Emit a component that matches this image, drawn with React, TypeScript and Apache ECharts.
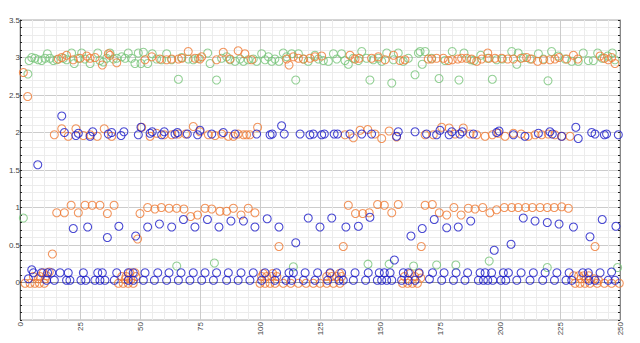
import React, { useEffect, useRef } from "react";
import * as echarts from "echarts";

const xTicks = [0, 25, 50, 75, 100, 125, 150, 175, 200, 225, 250];
const yTicks = [0, 0.5, 1, 1.5, 2, 2.5, 3, 3.5];

const greenTop: number[][] = [
  [3.3,2.78],[3.8,2.96],[4.9,3.0],[6.2,2.99],[7.6,2.97],[9,2.96],[10.4,2.99],[11.4,3.05],[12.5,2.99],[13.9,2.96],[15.3,2.97],[18.1,2.99],[19.4,2.97],[21.5,3.06],[22.6,2.92],[24.3,2.99],[25.7,3.06],[27.1,2.98],[29.2,2.92],[32.4,3.06],[33.3,2.96],[34.7,2.94],[36.1,2.99],[37.5,3.06],[38.9,2.98],[40.3,2.99],[42.4,3.01],[43.8,2.99],[45.1,3.06],[46.5,2.99],[47.9,2.92],[49.3,3.06],[50.4,2.92],[51.4,3.07],[53.2,2.92],[55.1,3.05],[56.9,2.98],[59,2.97],[61.1,3.05],[63.2,2.97],[66,2.71],[67.4,3.0],[70.1,2.98],[72.2,2.97],[74.3,2.99],[78.2,3.06],[79.2,2.92],[81.9,2.7],
  [84.0,2.99],[86.1,3.01],[87.5,2.97],[89.6,2.95],[91.7,2.98],[93.1,2.95],[95.1,2.97],[97.2,2.98],[98.6,2.95],[100.7,3.05],[102.1,2.97],[103.5,3.01],[104.9,2.95],[106.2,2.98],[107.9,2.95],[109.7,3.06],[111.1,3.01],[113.2,3.05],[114.9,2.7],[116.0,3.05],[118.1,2.98],[120.1,2.95],[122.9,3.03],[124.3,2.98],[126.4,2.96],[128.5,2.95],[130.6,3.05],[132.0,2.98],[134.0,3.05],[135.4,2.96],[136.8,2.91],[138.9,2.99],[141.0,2.96],[142.4,3.08],[144.4,2.99],[145.8,2.7],[147.2,2.97],[149.3,2.99],[150.7,2.95],[152.8,3.06],[154.9,2.66],[155.6,2.97],[157.6,3.06],[159.7,2.95],[161.8,2.99],[164.6,2.77],[166.0,3.06],
  [166.7,3.08],[167.6,2.91],[168.8,3.08],[171.5,2.99],[174.6,2.72],[177.1,2.96],[180.1,3.08],[182.9,2.7],[185.0,3.06],[187.8,2.97],[189.2,2.96],[192.0,3.03],[194.8,2.99],[196.8,2.71],[198.6,2.97],[201.0,2.98],[204.9,3.08],[207.0,2.91],[207.6,3.06],[209.7,3.0],[212.5,2.98],[216.0,3.05],[218.1,2.98],[220.0,2.69],[221.5,3.08],[224.3,3.02],[227.1,2.98],[229.9,2.95],[232.6,2.95],[234.7,3.06],[236.8,2.96],[238.9,2.96],[240.7,3.06],[242.6,2.99],[244.9,3.02],[246.8,3.06],[247.9,2.97]
];
const greenLow: number[][] = [
  [1.4,0.86],[65.3,0.22],[81.0,0.26],[113.9,0.21],[145.0,0.245],[153.8,0.245],[164.0,0.22],[173.6,0.233],[181.6,0.233],[195.5,0.286],[219.7,0.2],[249.0,0.2]
];

const orangeTop: number[][] = [
  [1.4,2.8],[3.2,2.48],[16.0,2.98],[17.4,3.0],[19.4,3.03],[22.2,2.97],[25.0,2.99],[27.8,3.02],[29.2,2.99],[31.3,3.0],[34.3,2.9],[36.8,3.05],[37.5,3.03],[40.3,2.93],[52.1,2.97],[54.9,3.01],[58.3,2.98],[61.1,2.97],[63.2,2.98],[66.0,2.98],[67.4,2.99],[70.1,3.08],[72.9,2.99],[75,2.98],[75.7,3.01],[81.9,2.97],[84.7,3.07],[87.5,2.98],[90.9,3.09],[93.7,3.05],[96.5,2.97],[111.1,2.98],[112.1,2.9],[113.9,3.01],[116.0,2.99],[118.1,2.98],[120.8,2.99],[122.9,3.01],[125.7,3.02],[137.5,3.03],[139.6,2.98],[141.3,2.99],[146.5,2.99],[149.3,3.01],[152.1,2.97],[155.6,3.03],[158.3,2.96],[160.4,2.97],[170.1,2.98],[171.5,2.98],[173.6,2.99],[176.4,2.99],[178.5,2.96],[180.1,2.97],[182.4,2.98],[184.0,2.99],[186.1,2.99],[188.2,2.98],[190.3,2.95],[192.4,2.98],[194.9,3.06],[195.4,2.99],[197.9,2.99],[200.7,2.99],[203.2,2.98],[205.6,2.98],[208.8,2.99],[211.1,3.0],[213.2,2.98],[215.7,2.95],[218.1,2.97],[220.8,2.97],[222.9,2.98],[224.6,3.0],[227.8,2.98],[230.6,3.03],[232.4,2.98],[241.7,3.02],[243.5,2.99],[245.1,2.97],[246.5,3.0],[247.9,2.92]
];
const orangeTwo: number[][] = [
  [14.3,1.97],[17.4,2.05],[20.1,1.95],[23.3,2.05],[26.4,1.96],[29.2,1.97],[32.2,1.95],[35.1,2.05],[38.2,1.95],[50.7,2.07],[54.2,1.95],[56.9,1.99],[60.1,1.97],[63.2,1.97],[66,1.98],[69,1.98],[72.2,2.08],[75,2.01],[78.5,1.97],[81.3,1.96],[84.0,1.98],[86.8,1.95],[88.9,1.95],[90.9,1.98],[93.1,1.97],[94.4,1.97],[95.8,1.97],[99.0,2.07],[135.4,1.97],[138.9,1.93],[141.7,2.03],[144.9,2.04],[147.9,1.98],[150.7,1.92],[153.8,2.02],[156.9,1.94],[168.8,1.97],[172.2,1.97],[175.7,2.07],[178.8,2.06],[181.3,1.98],[184.7,2.06],[187.5,1.98],[190.3,1.97],[193.8,1.95],[196.8,1.97],[199.3,1.99],[202.1,1.95],[205.6,1.99],[208.8,1.98],[211.8,1.95],[214.6,1.97],[217.4,1.97],[220.1,1.98],[222.9,1.97],[225.7,1.95],[229.2,1.95]
];
const orangeOne: number[][] = [
  [13.5,0.38],[15.3,0.93],[18.5,0.93],[21.3,1.03],[24.3,0.93],[27.1,1.03],[30.1,1.03],[33.3,1.03],[36.4,0.92],[39.2,1.03],[49.0,0.58],[50,0.92],[53.2,1.0],[56.2,0.98],[58.9,1.0],[62.1,0.99],[65.3,0.99],[68.3,0.98],[71.1,0.88],[74,0.9],[77.1,0.99],[79.9,0.98],[83.3,0.95],[86.1,0.95],[88.9,0.99],[92.1,0.9],[95.1,0.99],[97.9,0.93],[107.9,0.48],[134.7,0.48],[136.8,1.03],[139.8,0.92],[142.8,0.92],[145.5,0.93],[149.0,1.04],[151.8,1.03],[154.9,0.93],[157.6,1.04],[167.2,0.48],[168.8,1.03],[171.8,1.04],[174.7,0.93],[177.8,0.9],[180.8,1.0],[183.8,0.9],[186.8,0.99],[189.6,0.98],[192.8,1.0],[195.8,0.93],[198.6,0.97],[201.8,1.0],[204.9,1.0],[207.6,1.0],[210.7,1.0],[213.5,1.0],[216.7,1.0],[219.7,1.0],[222.6,1.0],[225.7,1.01],[228.5,0.99],[239.6,0.48]
];
const orangeZero: number[][] = [
  [2.1,-0.01],[4.2,-0.01],[6.2,-0.01],[8.1,-0.01],[10.1,-0.01],[5.6,0.08],[8.3,0.08],[11.1,0.09],[9.7,0.13],[12.2,0.14],[7.6,0.05],[10.5,0.05],
  [41.0,-0.01],[43.0,-0.01],[45.1,-0.01],[47.2,-0.01],[42.4,0.08],[44.2,0.08],[48.3,0.08],[45.8,0.13],[47.9,0.13],[43.8,0.04],[46.2,0.04],
  [100,-0.01],[102.1,-0.01],[104.2,-0.01],[106.3,-0.01],[109.7,-0.01],[112.8,-0.01],[116.0,-0.01],[119.2,-0.01],[122.2,-0.01],[125,-0.01],[127.8,-0.01],[130.6,-0.01],[133.3,-0.01],
  [100.7,0.08],[102.8,0.08],[104.9,0.08],[107,0.08],[101.4,0.12],[105.3,0.12],
  [127.8,0.08],[129.9,0.08],[131.9,0.08],[134,0.08],[129.2,0.12],[133.1,0.12],
  [159.4,-0.01],[161.5,-0.01],[163.5,-0.01],[165.6,-0.01],[160.2,0.08],[164.5,0.08],[167,0.06],[162.5,0.12],[166.2,0.12],
  [231.3,-0.01],[233.3,-0.01],[235.4,-0.01],[237.5,-0.01],[240.5,-0.01],[243.5,-0.01],[246.5,-0.01],[249.7,-0.01],[230.7,0.09],[232.8,0.09],[234.9,0.09],[237.0,0.09],[233.8,0.05],[236.0,0.05],[239.2,0.05],[241.0,0.03]
];

const blueTwo: number[][] = [
  [17.4,2.22],[18.5,2.0],[23.3,1.96],[24.3,1.99],[29.2,1.95],[30.3,2.01],[36.8,1.98],[38.2,2.0],[42.1,1.96],[43.3,2.01],[49.3,1.97],[50.4,2.07],[54.2,1.99],[55.1,2.01],[59,1.97],[60.1,2.01],[64.6,1.98],[65.6,2.0],[69.7,1.98],[74,1.97],[75,2.03],[79.9,1.98],[84.7,2.0],[89.6,1.98],[98.6,1.98],[104.2,1.97],[105.1,1.98],[109.0,2.09],[110.1,1.98],[116.7,1.98],[120.8,1.97],[122.2,1.98],[125.7,1.97],[126.8,1.98],[130.9,1.98],[132.3,1.98],[137.5,1.98],[142.4,1.98],[146.5,1.98],[156.9,1.95],[157.6,2.01],[164.6,2.01],[169.4,1.98],[173.6,1.97],[175.0,2.03],[178.8,1.97],[179.9,2.01],[183.3,1.98],[184.3,2.01],[188.9,1.98],[198.6,2.0],[199.6,2.02],[205.6,1.97],[210.4,1.95],[216.0,1.99],[220.8,2.01],[221.8,1.98],[225.7,1.95],[231.6,2.07],[232.6,1.92],[238.2,2.0],[239.6,1.98],[243.5,1.97],[244.4,1.98],[249.3,1.97]
];
const blueMid: number[][] = [
  [7.4,1.57],[22.2,0.72],[28.2,0.74],[36.4,0.6],[41.2,0.75],[48.2,0.62],[53.2,0.74],[58.1,0.78],[63.2,0.74],[68.1,0.84],[72.9,0.74],[78.1,0.84],[82.9,0.74],[87.9,0.82],[93.1,0.82],[97.9,0.74],[103.0,0.85],[107.9,0.74],[114.9,0.53],[120.1,0.86],[125,0.74],[129.9,0.86],[135.8,0.74],[141.0,0.75],[145.8,0.87],[156.0,0.3],[162.9,0.62],[167.6,0.72],[172.6,0.84],[177.8,0.73],[182.6,0.74],[187.8,0.82],[197.6,0.43],[204.6,0.51],[209.7,0.86],[214.6,0.82],[219.7,0.8],[224.6,0.78],[230.6,0.74],[237.5,0.61],[242.6,0.84],[248.3,0.75]
];
const blueZeroUpper: number[][] = [
  [4.9,0.17],[5.6,0.13],[9.0,0.13],[11.5,0.13],[13.2,0.13],[16.7,0.13],[20.1,0.13],[26.4,0.13],[32.4,0.13],[34.3,0.13],[40.3,0.13],[45.1,0.13],[47.2,0.13],[52.1,0.13],[57.4,0.13],[62.1,0.13],[67.1,0.13],[72.2,0.13],[77.1,0.13],[81.9,0.13],
  [86.8,0.13],[92.1,0.13],[97.2,0.13],[102.1,0.13],[106.9,0.13],[112.1,0.13],[113.9,0.13],[118.8,0.13],[124.0,0.13],[129.2,0.13],[134.0,0.13],[139.6,0.13],[145.1,0.13],[149.7,0.13],[151.8,0.13],[154.2,0.13],[159.7,0.13],[161.8,0.13],[166.3,0.13],
  [171.9,0.13],[176.7,0.13],[181.7,0.13],[186.5,0.13],[191.7,0.13],[193.8,0.13],[196.5,0.13],[201.4,0.13],[203.5,0.13],[208.8,0.13],[213.9,0.13],[218.8,0.13],[223.7,0.13],[228.8,0.13],[234.5,0.13],[236.8,0.13],[241.7,0.13],[246.5,0.14]
];
const blueZeroLower: number[][] = [
  [3.5,0.05],[11.1,0.03],[14.3,0.03],[19.4,0.03],[20.8,0.03],[25.4,0.03],[27.4,0.03],[31.2,0.03],[33.3,0.03],[35.4,0.03],[39.3,0.03],[45.1,0.03],[47.2,0.03],[51.4,0.03],[56.0,0.03],[61.1,0.03],[66.0,0.03],[70.8,0.03],[75.7,0.03],[80.6,0.03],
  [86.1,0.03],[90.9,0.03],[95.8,0.03],[100.7,0.03],[106.2,0.03],[110.8,0.03],[113.2,0.03],[118.1,0.03],[122.9,0.03],[128.2,0.03],[132.9,0.03],[134.7,0.03],[138.9,0.03],[144.0,0.03],[148.9,0.03],[150.7,0.03],[152.8,0.03],[154.9,0.03],[159.0,0.03],[161.8,0.03],[164.6,0.03],
  [170.6,0.045],[175.7,0.03],[180.6,0.03],[185.4,0.03],[191.0,0.03],[193.1,0.03],[194.9,0.03],[197.0,0.03],[200.4,0.03],[202.4,0.03],[207.0,0.03],[212.5,0.03],[217.8,0.03],[222.7,0.03],[227.5,0.03],[229.9,0.03],[237.1,0.03],[239.6,0.03],[245.1,0.03],[247.9,0.03]
];

const BLUE = "#1c1cc8";
const ORANGE = "#ef7a35";
const GREEN = "#78c47a";

function scatter(name: string, color: string, data: number[][]) {
  return {
    name,
    type: "scatter",
    data,
    symbol: "circle",
    symbolSize: 8,
    itemStyle: { color: "rgba(0,0,0,0)", borderColor: color, borderWidth: 1.1 },
    emphasis: { disabled: true },
  };
}

export default function App() {
  const ref = useRef<HTMLDivElement>(null);
  useEffect(() => {
    document.body.style.margin = "0";
    const chart = echarts.init(ref.current!, null, { renderer: "svg" });
    const labelFont = { fontSize: 8, color: "#444", fontFamily: "Liberation Sans, Arial, sans-serif" };
    chart.setOption({
      animation: false,
      backgroundColor: "#ffffff",
      grid: { left: 20, right: 20, top: 20, bottom: 23, show: true, borderColor: "#aaaaaa", borderWidth: 1 },
      xAxis: {
        type: "value",
        min: xTicks[0],
        max: xTicks[xTicks.length - 1],
        interval: 25,
        axisLine: { show: true, lineStyle: { color: "#999999" } },
        axisTick: { show: false },
        axisLabel: { ...labelFont, rotate: 90, margin: 2, showMinLabel: true, showMaxLabel: true },
        splitLine: { show: true, lineStyle: { color: "#cccccc", width: 1 } },
        minorTick: { show: false, splitNumber: 5 },
        minorSplitLine: { show: true, lineStyle: { color: "#ececec", width: 1 } },
      },
      yAxis: [
        {
          type: "value",
          min: -0.5,
          max: yTicks[yTicks.length - 1],
          interval: 0.5,
          axisLine: { show: true, lineStyle: { color: "#555555" } },
          axisTick: { show: true, inside: true, length: 2, lineStyle: { color: "#222" } },
          minorTick: { show: true, splitNumber: 5, length: 2, lineStyle: { color: "#222" } },
          axisLabel: {
            ...labelFont,
            margin: 0,
            formatter: (v: number) => (yTicks.indexOf(v) >= 0 ? String(v) : ""),
          },
          splitLine: { show: true, lineStyle: { color: "#cccccc", width: 1 } },
          minorSplitLine: { show: true, lineStyle: { color: "#ececec", width: 1 } },
        },
        {
          type: "value",
          position: "right",
          min: -0.5,
          max: 3.5,
          interval: 0.5,
          axisLine: { show: true, lineStyle: { color: "#888888" } },
          axisTick: { show: true, inside: true, length: 2, lineStyle: { color: "#222" } },
          minorTick: { show: true, splitNumber: 5, length: 2, lineStyle: { color: "#222" } },
          axisLabel: { show: false },
          splitLine: { show: false },
        },
      ],
      series: [
        scatter("green", GREEN, [...greenTop, ...greenLow]),
        scatter("orange", ORANGE, [...orangeTop, ...orangeTwo, ...orangeOne, ...orangeZero]),
        scatter("blue", BLUE, [...blueTwo, ...blueMid, ...blueZeroUpper, ...blueZeroLower]),
      ],
    });
    return () => chart.dispose();
  }, []);
  return <div ref={ref} style={{ width: 640, height: 343 }} />;
}
